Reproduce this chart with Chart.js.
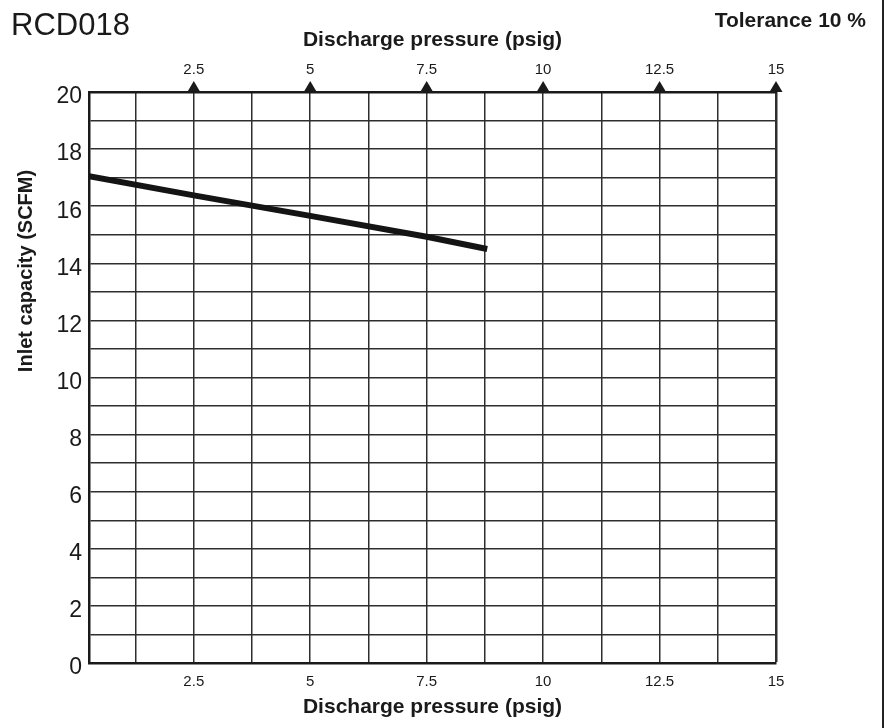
<!DOCTYPE html>
<html>
<head>
<meta charset="utf-8">
<script src="https://cdn.jsdelivr.net/npm/chart.js@4.4.1/dist/chart.umd.min.js"></script>
<style>
  body { margin: 0; background: #fff; }
  #wrap { width: 885px; height: 728px; }
</style>
</head>
<body>
<div id="wrap"><canvas id="curve"></canvas></div>
<script>
// discharge pressure (psig) vs inlet capacity (SCFM)
const pressure = [0.25, 2.5, 5, 7.5, 8.8];
const capacity = [17.05, 16.38, 15.66, 14.93, 14.5];

const xGrid = [1.25, 2.5, 3.75, 5, 6.25, 7.5, 8.75, 10, 11.25, 12.5, 13.75, 15];
const xLabels = [2.5, 5, 7.5, 10, 12.5, 15];
const yLabels = [0, 2, 4, 6, 8, 10, 12, 14, 16, 18, 20];

const ink = '#1a1a1a';
const gridInk = '#2e2e2e';

const extras = {
    id: 'extras',
    afterDraw(chart) {
        const c = chart.ctx;
        const top = chart.scales.x2;
        c.save();
        // arrow heads on the top axis
        c.fillStyle = ink;
        xLabels.forEach(v => {
            const px = top.getPixelForValue(v);
            c.beginPath();
            c.moveTo(px, 81);
            c.lineTo(px - 6.5, 92);
            c.lineTo(px + 6.5, 92);
            c.closePath();
            c.fill();
        });
        // frame line on the right
        c.strokeStyle = '#222';
        c.lineWidth = 2;
        c.beginPath();
        c.moveTo(883, 0);
        c.lineTo(883, 728);
        c.stroke();

        c.fillStyle = ink;
        c.font = '31px "Liberation Sans", Arial, sans-serif';
        c.textAlign = 'left';
        c.textBaseline = 'alphabetic';
        c.fillText('RCD018', 11, 35);

        c.font = 'bold 21px "Liberation Sans", Arial, sans-serif';
        c.textAlign = 'right';
        c.fillText('Tolerance 10 %', 866, 27);

        c.translate(32, 271);
        c.rotate(-Math.PI / 2);
        c.textAlign = 'center';
        c.font = 'bold 20px "Liberation Sans", Arial, sans-serif';
        c.fillText('Inlet capacity (SCFM)', 0, 0);
        c.restore();
    }
};

const ctx = document.getElementById('curve').getContext('2d');
const curve = new Chart(ctx, {
    type: 'line',
    data: {
        datasets: [{
            label: 'RCD018',
            data: pressure.map((p, i) => ({ x: p, y: capacity[i] })),
            borderColor: '#141414',
            borderWidth: 6,
            borderCapStyle: 'butt',
            pointRadius: 0,
            tension: 0,
            xAxisID: 'x',
            yAxisID: 'y'
        }]
    },
    options: {
        responsive: true,
        maintainAspectRatio: false,
        animation: false,
        layout: { padding: { left: 0, right: 109, top: 0, bottom: 0 } },
        plugins: {
            legend: { display: false },
            tooltip: { enabled: false }
        },
        scales: {
            x: {
                type: 'linear',
                position: 'bottom',
                min: 0.25,
                max: 15,
                afterBuildTicks: s => { s.ticks = xGrid.map(v => ({ value: v })); },
                afterFit: s => { s.height = 65; },
                ticks: {
                    autoSkip: false,
                    maxRotation: 0,
                    padding: 10,
                    color: ink,
                    font: { family: '"Liberation Sans", Arial, sans-serif', size: 15 },
                    callback: v => xLabels.includes(v) ? String(v) : ''
                },
                grid: {
                    drawTicks: false,
                    color: gridInk,
                    lineWidth: c => (c.tick && c.tick.value === 15) ? 2.5 : 1.5
                },
                border: { color: ink, width: 2.5 },
                title: {
                    display: true,
                    text: 'Discharge pressure (psig)',
                    color: ink,
                    font: { family: '"Liberation Sans", Arial, sans-serif', size: 21, weight: 'bold' },
                    padding: { top: 0, bottom: 8 }
                }
            },
            x2: {
                type: 'linear',
                position: 'top',
                min: 0.25,
                max: 15,
                afterBuildTicks: s => { s.ticks = xLabels.map(v => ({ value: v })); },
                afterFit: s => { s.height = 92; },
                ticks: {
                    autoSkip: false,
                    maxRotation: 0,
                    padding: 13,
                    color: ink,
                    font: { family: '"Liberation Sans", Arial, sans-serif', size: 15 },
                    callback: v => String(v)
                },
                grid: { display: false, drawTicks: false },
                border: { color: ink, width: 2.5 },
                title: {
                    display: true,
                    text: 'Discharge pressure (psig)',
                    color: ink,
                    font: { family: '"Liberation Sans", Arial, sans-serif', size: 21, weight: 'bold' },
                    padding: { top: 28, bottom: 0 }
                }
            },
            y: {
                type: 'linear',
                position: 'left',
                min: 0,
                max: 20,
                afterFit: s => { s.width = 89; },
                ticks: {
                    stepSize: 1,
                    autoSkip: false,
                    padding: 7,
                    labelOffset: 5,
                    color: ink,
                    font: { family: '"Liberation Sans", Arial, sans-serif', size: 23 },
                    callback: v => yLabels.includes(v) ? String(v) : ''
                },
                grid: { drawTicks: false, color: gridInk, lineWidth: 1.5 },
                border: { color: ink, width: 2.5 }
            }
        }
    },
    plugins: [extras]
});
</script>
</body>
</html>
